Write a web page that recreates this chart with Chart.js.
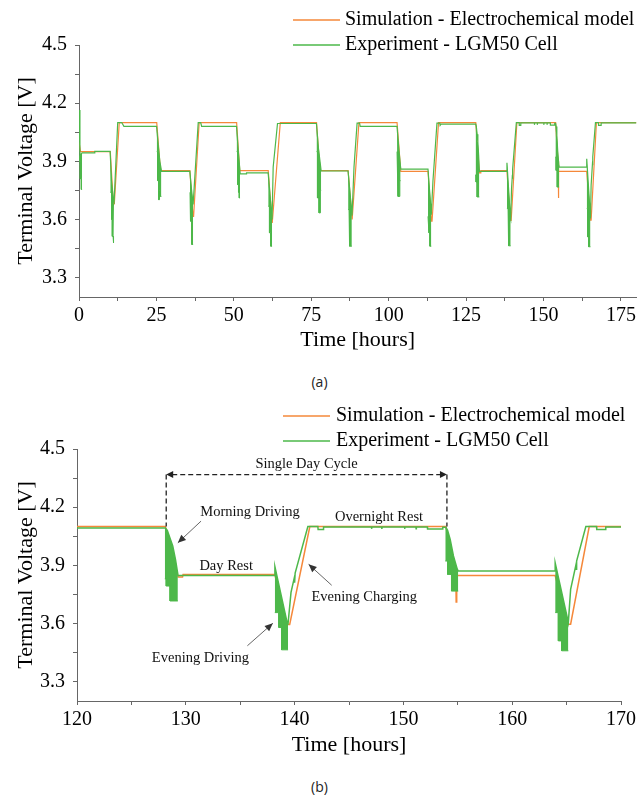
<!DOCTYPE html>
<html>
<head>
<meta charset="utf-8">
<script src="https://cdn.jsdelivr.net/npm/chart.js@4.4.0/dist/chart.umd.min.js"></script>
<style>
  body { margin: 0; background: #fff; width: 639px; height: 797px; position: relative; overflow: hidden; }
  canvas { position: absolute; left: 0; }
  #chartA { top: 0; }
  #chartB { top: 400px; }
  .panel { position: absolute; left: 0; width: 639px; text-align: center; font: 14px "Open Sans", sans-serif; color: #222; }
</style>
</head>
<body>
<canvas id="chartA" width="639" height="360"></canvas>
<div class="panel" style="top:372px">(a)</div>
<canvas id="chartB" width="639" height="370"></canvas>
<div class="panel" style="top:777px">(b)</div>
<script>
const FONT = '"Liberation Serif", "Times New Roman", serif';
const SIM_COLOR = "#F5883A";
const EXP_COLOR = "#4DB84A";
const AXIS_COLOR = "#666";

const seriesNames = ["Simulation - Electrochemical model", "Experiment - LGM50 Cell"];

const yTicks = [3.3, 3.6, 3.9, 4.2, 4.5];
const yMinorTicks = [3.45, 3.75, 4.05, 4.35];
const xTicksA = [0, 25, 50, 75, 100, 125, 150, 175];
const xMinorTicksA = [12.5, 37.5, 62.5, 87.5, 112.5, 137.5, 162.5];
const xTicksB = [120, 130, 140, 150, 160, 170];
const xMinorTicksB = [125, 135, 145, 155, 165];

// electrochemical model, [hours, volts]
const simPoints = [
  [0, 4.0], [0.5, 3.95], [10.1, 3.95], [11.1, 3.68], [11.4, 3.68], [13.0, 4.10],
  [25.1, 4.10], [26.3, 3.852], [35.8, 3.852], [36.8, 3.616], [37.0, 3.616], [38.8, 4.10],
  [50.9, 4.10], [51.9, 3.852], [61.1, 3.852], [62.4, 3.582], [62.6, 3.582], [65.0, 4.10],
  [76.7, 4.10], [77.8, 3.852], [86.9, 3.852], [88.2, 3.60], [88.4, 3.60], [90.4, 4.10],
  [102.7, 4.10], [103.9, 3.848], [112.7, 3.848], [113.8, 3.591], [114.0, 3.591], [116.1, 4.10],
  [128.12, 4.10], [128.5, 4.02], [128.9, 3.93], [129.2, 3.86], [129.3, 3.84], [129.7, 3.84],
  [129.75, 3.852], [138.18, 3.852], [139.3, 3.595], [139.55, 3.595], [141.4, 4.10],
  [153.9, 4.10], [154.3, 4.00], [154.7, 3.90], [154.82, 3.86], [154.85, 3.711], [154.9, 3.848],
  [163.94, 3.848], [165.16, 3.596], [165.37, 3.596], [167.08, 4.10], [180, 4.10]
];

// LGM50 cell measurement (upper edge while driving), [hours, volts]
const expPoints = [
  [0, 4.165], [0.3, 3.93], [1.0, 3.943], [5.0, 3.943], [5.1, 3.951], [10.05, 3.951],
  [10.5, 3.80], [11.1, 3.70], [11.3, 3.68],
  [12.5, 4.10], [13.8, 4.10], [14.5, 4.08], [25.05, 4.08],
  [25.6, 3.98], [26.1, 3.90], [26.67, 3.848], [35.8, 3.848],
  [36.3, 3.76], [36.85, 3.677],
  [38.5, 4.10], [39.3, 4.10], [39.6, 4.08], [50.86, 4.08],
  [51.4, 3.96], [52.05, 3.835], [54.0, 3.835], [54.1, 3.84], [61.08, 3.84],
  [61.7, 3.72], [62.35, 3.60],
  [62.7, 3.87], [64.1, 4.095], [76.67, 4.095],
  [77.3, 3.97], [78.2, 3.85], [86.88, 3.85],
  [87.5, 3.74], [88.17, 3.62],
  [88.8, 3.87], [89.8, 4.097], [90.6, 4.097], [90.8, 4.08], [102.69, 4.08],
  [103.3, 3.96], [103.9, 3.86], [112.69, 3.86],
  [113.2, 3.75], [113.76, 3.625],
  [114.3, 3.80], [115.59, 4.097], [116.5, 4.097], [116.6, 4.085], [116.9, 4.092], [128.12, 4.092],
  [128.3, 4.08], [128.55, 4.04], [128.8, 4.0], [129.05, 3.93], [129.27, 3.853], [129.3, 3.848], [138.18, 3.848],
  [138.19, 3.893], [139.31, 3.605], [139.4, 3.60],
  [139.67, 3.76], [139.95, 3.83], [140.0, 3.81], [140.05, 3.86], [141.22, 4.10], [142.14, 4.10],
  [142.16, 4.085], [142.64, 4.085], [142.66, 4.098],
  [147.06, 4.098], [147.08, 4.088], [147.1, 4.098], [148.0, 4.098], [148.02, 4.088], [148.04, 4.098],
  [150.1, 4.098], [150.12, 4.088], [150.14, 4.098], [151.15, 4.098], [151.17, 4.088], [151.19, 4.098],
  [152.2, 4.098], [152.22, 4.087], [153.6, 4.087], [153.62, 4.096], [153.9, 4.096],
  [154.06, 4.08], [154.3, 4.033], [154.6, 3.948], [154.95, 3.88], [155.04, 3.87], [163.94, 3.87],
  [163.95, 3.913], [165.16, 3.605],
  [165.37, 3.776], [165.85, 3.90], [165.88, 3.88], [165.92, 3.922], [166.77, 4.10], [167.75, 4.10],
  [167.77, 4.085], [168.58, 4.085], [168.6, 4.098], [180, 4.098]
];

// lower edge of the current pulses in each driving block, [hours, volts]
const pulseLow = [
  [[0.0, 3.90], [0.4, 3.90], [0.4, 3.81], [0.75, 3.81], [0.75, 3.755], [1.0, 3.755]],
  [[10.1, 3.74], [10.5, 3.74], [10.5, 3.60], [10.75, 3.60], [10.75, 3.513], [11.0, 3.513], [11.0, 3.479], [11.3, 3.479]],
  [[25.1, 3.95], [25.4, 3.95], [25.4, 3.80], [25.7, 3.80], [25.7, 3.702], [26.0, 3.702], [26.0, 3.75], [26.3, 3.75], [26.3, 3.719], [26.6, 3.719]],
  [[35.85, 3.74], [36.0, 3.74], [36.0, 3.591], [36.4, 3.591], [36.4, 3.471], [36.85, 3.471]],
  [[50.9, 3.95], [51.2, 3.95], [51.2, 3.78], [51.5, 3.78], [51.5, 3.74], [51.75, 3.74], [51.75, 3.711], [52.0, 3.711]],
  [[61.1, 3.668], [61.5, 3.668], [61.5, 3.531], [61.9, 3.531], [61.9, 3.462], [62.35, 3.462]],
  [[76.7, 3.95], [77.0, 3.95], [77.0, 3.711], [77.5, 3.711], [77.5, 3.634], [77.95, 3.634], [77.95, 3.75], [78.2, 3.75]],
  [[86.9, 3.651], [87.2, 3.651], [87.2, 3.531], [87.45, 3.531], [87.45, 3.462], [88.1, 3.462]],
  [[102.7, 3.95], [103.0, 3.95], [103.0, 3.719], [103.6, 3.719], [103.6, 3.80], [103.85, 3.80]],
  [[112.7, 3.616], [113.0, 3.616], [113.0, 3.531], [113.3, 3.531], [113.3, 3.462], [113.76, 3.462]],
  [[128.07, 3.83], [128.2, 3.83], [128.2, 3.793], [128.55, 3.793], [128.55, 3.716], [129.27, 3.716]],
  [[138.18, 3.656], [138.55, 3.656], [138.55, 3.579], [138.8, 3.579], [138.8, 3.464], [139.4, 3.464]],
  [[153.85, 3.922], [154.06, 3.922], [154.06, 3.853], [154.42, 3.853], [154.42, 3.767], [155.04, 3.767]],
  [[163.95, 3.656], [164.24, 3.656], [164.24, 3.51], [164.55, 3.51], [164.55, 3.459], [165.16, 3.459]]
];

// annotation anchors for the zoomed panel, in hours / volts
const cycleSpan = { from: 128.2, to: 154.0, level: 4.368, base: 4.10, text: "Single Day Cycle", textAt: 4.424 };
const notes = [
  { text: "Morning Driving", at: [135.9, 4.172], arrow: [[131.4, 4.128], [129.27, 4.016]] },
  { text: "Day Rest", at: [133.71, 3.895] },
  { text: "Overnight Rest", at: [147.76, 4.147] },
  { text: "Evening Charging", at: [146.4, 3.735], arrow: [[143.41, 3.797], [141.29, 3.905]] },
  { text: "Evening Driving", at: [131.34, 3.421], arrow: [[135.66, 3.485], [138.0, 3.601]] }
];

Chart.defaults.font.family = FONT;
Chart.defaults.color = "#000";

const toXY = (pts) => pts.map(([x, y]) => ({ x, y }));

function pulseData() {
  const out = [];
  pulseLow.forEach((block) => {
    block.forEach(([x, y]) => out.push({ x, y }));
    out.push({ x: block[block.length - 1][0], y: null });
  });
  return out;
}

function arrowHead(ctx, fx, fy, tx, ty, len, half) {
  const a = Math.atan2(ty - fy, tx - fx);
  const bx = tx - len * Math.cos(a);
  const by = ty - len * Math.sin(a);
  ctx.beginPath();
  ctx.moveTo(tx, ty);
  ctx.lineTo(bx - half * Math.sin(a), by + half * Math.cos(a));
  ctx.lineTo(bx + half * Math.sin(a), by - half * Math.cos(a));
  ctx.closePath();
  ctx.fill();
}

// two-row key in the top right corner
const seriesKey = {
  id: "seriesKey",
  afterDraw(chart, args, o) {
    const ctx = chart.ctx;
    ctx.save();
    ctx.font = `${o.size}px ${FONT}`;
    ctx.textBaseline = "middle";
    ctx.fillStyle = "#000";
    chart.data.datasets.slice(0, 2).forEach((ds, i) => {
      const y = o.y + i * o.rowGap;
      ctx.strokeStyle = ds.borderColor;
      ctx.lineWidth = 1.5;
      ctx.beginPath();
      ctx.moveTo(o.x, y);
      ctx.lineTo(o.x + o.lineLen, y);
      ctx.stroke();
      ctx.fillText(ds.label, o.x + o.lineLen + o.textGap, y);
    });
    ctx.restore();
  }
};

const dayNotes = {
  id: "dayNotes",
  afterDatasetsDraw(chart, args, o) {
    if (!o.enabled) return;
    const { ctx, scales: { x, y } } = chart;
    const px = (h) => x.getPixelForValue(h);
    const py = (v) => y.getPixelForValue(v);
    ctx.save();

    const x0 = px(cycleSpan.from), x1 = px(cycleSpan.to);
    const yl = py(cycleSpan.level), yb = py(cycleSpan.base);
    ctx.strokeStyle = "#222";
    ctx.fillStyle = "#222";
    ctx.lineWidth = 1.3;
    ctx.setLineDash([5, 3]);
    ctx.beginPath();
    ctx.moveTo(x0 + 6, yl); ctx.lineTo(x1 - 6, yl);
    ctx.moveTo(x0, yl); ctx.lineTo(x0, yb);
    ctx.moveTo(x1, yl); ctx.lineTo(x1, yb);
    ctx.stroke();
    ctx.setLineDash([]);
    arrowHead(ctx, x0 + 8, yl, x0, yl, 7, 3.5);
    arrowHead(ctx, x1 - 8, yl, x1, yl, 7, 3.5);

    ctx.font = `14.5px ${FONT}`;
    ctx.textAlign = "center";
    ctx.textBaseline = "middle";
    ctx.fillStyle = "#111";
    ctx.fillText(cycleSpan.text, (x0 + x1) / 2, py(cycleSpan.textAt));

    notes.forEach((n) => {
      ctx.fillStyle = "#111";
      ctx.fillText(n.text, px(n.at[0]), py(n.at[1]));
      if (n.arrow) {
        const [[ax, ay], [bx, by]] = n.arrow;
        ctx.strokeStyle = "#555";
        ctx.fillStyle = "#333";
        ctx.lineWidth = 0.9;
        ctx.beginPath();
        ctx.moveTo(px(ax), py(ay));
        ctx.lineTo(px(bx), py(by));
        ctx.stroke();
        arrowHead(ctx, px(ax), py(ay), px(bx), py(by), 8, 3.5);
      }
    });
    ctx.restore();
  }
};

function makeChart(id, cfg) {
  const tickList = (major, minor) => [...major, ...minor].sort((a, b) => a - b).map((value) => ({ value }));
  return new Chart(document.getElementById(id), {
    type: "line",
    data: {
      datasets: [
        { label: seriesNames[0], data: toXY(simPoints), borderColor: SIM_COLOR, borderWidth: cfg.lineWidth, order: 2 },
        { label: seriesNames[1], data: toXY(expPoints), borderColor: EXP_COLOR, borderWidth: cfg.lineWidth, order: 1 },
        { label: "pulses", data: pulseData(), borderColor: EXP_COLOR, backgroundColor: EXP_COLOR,
          borderWidth: 1, fill: 1, order: 1 }
      ]
    },
    options: {
      responsive: false,
      animation: false,
      events: [],
      layout: { padding: { left: 0, top: cfg.top, right: cfg.right, bottom: 0 } },
      elements: { point: { radius: 0 }, line: { tension: 0 } },
      scales: {
        x: {
          type: "linear",
          min: cfg.xMin,
          max: cfg.xMax,
          afterBuildTicks: (axis) => { axis.ticks = tickList(cfg.xTicks, cfg.xMinor); },
          afterFit: (axis) => { axis.height = cfg.xAxisHeight; },
          ticks: {
            autoSkip: false, maxRotation: 0, padding: 3,
            font: { size: 20 },
            callback: (v) => (cfg.xTicks.includes(v) ? String(v) : "")
          },
          grid: { drawOnChartArea: false, drawTicks: true, tickLength: 4, color: AXIS_COLOR },
          border: { color: AXIS_COLOR, width: 1 },
          title: { display: true, text: "Time [hours]", font: { size: 22 }, padding: { top: 0, bottom: cfg.xTitlePad } }
        },
        y: {
          min: 3.2,
          max: 4.5,
          afterBuildTicks: (axis) => { axis.ticks = tickList(yTicks, yMinorTicks); },
          afterFit: (axis) => { axis.width = cfg.yAxisWidth; },
          ticks: {
            autoSkip: false, padding: 8,
            font: { size: 20 },
            callback: (v) => (yTicks.includes(v) ? v.toFixed(1) : "")
          },
          grid: { drawOnChartArea: false, drawTicks: true, tickLength: 4, color: AXIS_COLOR },
          border: { color: AXIS_COLOR, width: 1 },
          title: { display: true, text: "Terminal Voltage [V]", font: { size: 22 }, padding: { top: 13, bottom: 0 } }
        }
      },
      plugins: {
        legend: { display: false },
        tooltip: { enabled: false },
        seriesKey: cfg.key,
        dayNotes: { enabled: cfg.notes }
      }
    },
    plugins: [seriesKey, dayNotes]
  });
}

makeChart("chartA", {
  xMin: 0, xMax: 180, xTicks: xTicksA, xMinor: xMinorTicksA,
  top: 45, right: 2, yAxisWidth: 79, xAxisHeight: 63, xTitlePad: 7,
  lineWidth: 1.2, notes: false,
  key: { x: 293, y: 20, rowGap: 25, lineLen: 47, textGap: 5, size: 20 }
});

makeChart("chartB", {
  xMin: 120, xMax: 170, xTicks: xTicksB, xMinor: xMinorTicksB,
  top: 49, right: 14.5, yAxisWidth: 77, xAxisHeight: 69, xTitlePad: 12,
  lineWidth: 1.5, notes: true,
  key: { x: 283, y: 16, rowGap: 25, lineLen: 47, textGap: 6, size: 20 }
});
</script>
</body>
</html>
